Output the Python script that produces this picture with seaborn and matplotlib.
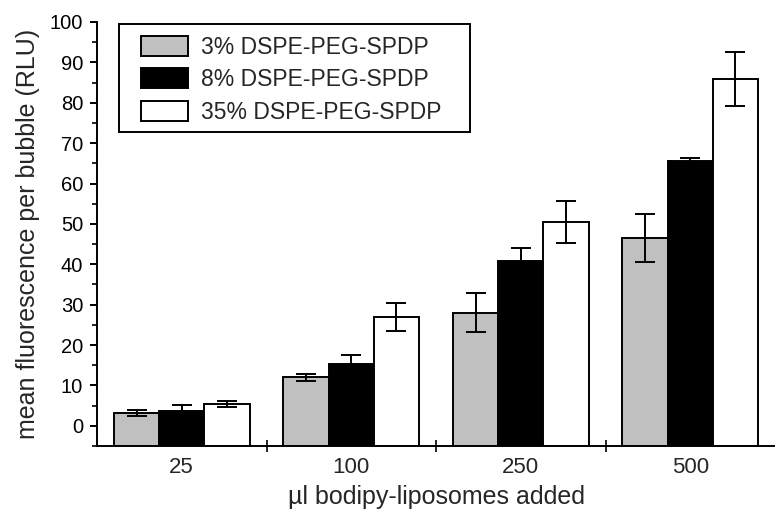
import matplotlib
matplotlib.use("Agg")
import matplotlib.pyplot as plt
import seaborn as sns
import pandas as pd
import numpy as np
from matplotlib.ticker import FixedLocator
from matplotlib.patches import Rectangle

# ---- data ----
volumes = ["25", "100", "250", "500"]
series = ["3% DSPE-PEG-SPDP", "8% DSPE-PEG-SPDP", "35% DSPE-PEG-SPDP"]
mean_3 = [3.2, 12.0, 28.0, 46.5]
mean_8 = [3.6, 15.3, 40.9, 65.6]
mean_35 = [5.4, 26.9, 50.4, 85.9]
err_3 = [0.7, 0.8, 4.8, 6.0]
err_8 = [1.6, 2.2, 3.2, 0.7]
err_35 = [0.7, 3.4, 5.2, 6.6]
colors = ["#c0c0c0", "#000000", "#ffffff"]
y_min, y_max = -5, 100

sns.set_theme(style="ticks")
plt.rcParams["font.family"] = ["Liberation Sans", "DejaVu Sans"]

rows = []
for s, means in zip(series, [mean_3, mean_8, mean_35]):
    for v, m in zip(volumes, means):
        rows.append({"volume": v, "series": s, "value": m})
df = pd.DataFrame(rows)

fig = plt.figure(figsize=(7.75, 5.16), dpi=100)
ax = fig.add_axes([97 / 775, (516 - 446) / 516, 678 / 775, 424 / 516])

sns.barplot(data=df, x="volume", y="value", hue="series", order=volumes,
            hue_order=series, palette=colors, errorbar=None, width=0.8,
            edgecolor="black", linewidth=1.4, saturation=1, ax=ax)

# bars start at the bottom of the axis (as in the original software)
errs = [err_3, err_8, err_35]
means_all = [mean_3, mean_8, mean_35]
for cont, means, es in zip(ax.containers, means_all, errs):
    xs = []
    for p in cont:
        h = p.get_height()
        p.set_y(y_min)
        p.set_height(h - y_min)
        xs.append(p.get_x() + p.get_width() / 2)
    ax.errorbar(xs, means, yerr=es, fmt="none", ecolor="black",
                elinewidth=1.4, capsize=7, capthick=1.4, zorder=5)

ax.set_ylim(y_min, y_max)
ax.set_xlim(-0.5, 3.5)

ax.yaxis.set_major_locator(FixedLocator(np.arange(0, 101, 10)))
ax.yaxis.set_minor_locator(FixedLocator(np.arange(-5, 100, 10)))
ax.tick_params(axis="y", which="major", direction="out", length=5, width=1.4,
               labelsize=14.5, pad=5, colors="black")
ax.tick_params(axis="y", which="minor", direction="out", length=3.5, width=1.4)

ax.xaxis.set_minor_locator(FixedLocator([0.5, 1.5, 2.5]))
ax.tick_params(axis="x", which="major", length=0, labelsize=16, pad=8)
ax.tick_params(axis="x", which="minor", direction="inout", length=8, width=1.4)

for side in ["top", "right"]:
    ax.spines[side].set_visible(False)
for side in ["left", "bottom"]:
    ax.spines[side].set_linewidth(1.4)
    ax.spines[side].set_color("black")

ax.set_xlabel("\u00b5l bodipy-liposomes added", fontsize=18, labelpad=5)
ax.set_ylabel("mean fluorescence per bubble (RLU)", fontsize=18, labelpad=7)

# legend frame drawn separately so that its padding matches the original
fx0 = (119 - 97) / 678
fx1 = (470 - 97) / 678
fy1 = (446 - 24) / 424
fy0 = (446 - 132) / 424
ax.add_patch(Rectangle((fx0, fy0), fx1 - fx0, fy1 - fy0, transform=ax.transAxes,
                       facecolor="white", edgecolor="black", linewidth=1.4,
                       zorder=8, clip_on=False))
leg = ax.legend(loc="upper left",
                bbox_to_anchor=((141 - 97) / 678, (446 - 35.5) / 424),
                fontsize=16.5, frameon=False, borderaxespad=0, borderpad=0,
                handlelength=2.05, handleheight=0.98, handletextpad=0.58,
                labelspacing=0.42, title=None)
leg.set_zorder(9)
for h in leg.legend_handles:
    h.set_edgecolor("black")
    h.set_linewidth(1.4)

fig.savefig("out.png", dpi=100)
